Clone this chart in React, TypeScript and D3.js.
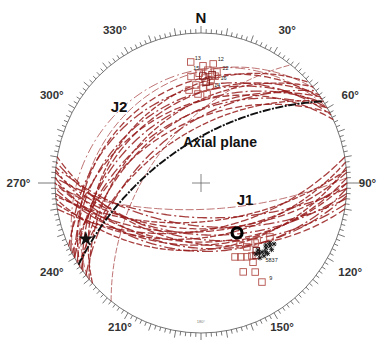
import React from "react";
import * as d3 from "d3";

// azimuth labels around the primitive
const azimuths = [0, 30, 60, 90, 120, 150, 180, 210, 240, 270, 300, 330];
const azLabels = ["N", "30°", "60°", "90°", "120°", "150°", "", "210°", "240°", "270°", "300°", "330°"];

// J1 great circles: [dip direction, dip]
const j1Dir = [178, 182, 175, 186, 180, 176, 184, 172, 188, 180, 178, 185, 174, 182, 190, 170];
const j1Dip = [70, 64, 61, 58, 56, 54, 52, 50, 49, 47, 45, 43, 42, 41, 46, 55];

// J2 great circles: [dip direction, dip]
const j2Dir = [327, 322, 332, 325, 330, 320, 328, 335, 324, 330, 318, 333, 326, 321, 330, 308];
const j2Dip = [53, 49, 46, 43, 42, 39, 37, 35, 33, 31, 29, 27, 24, 21, 18, 52];

const axialPlane = { dir: 327, dip: 60 };

// poles: trend / plunge
const j1PoleTrend = [355, 354.5, 1, 3.6, 6, 359, 2, 5.7, 7.7, 357, 1.3, 5.5, 352.5, 358, 4, 8.4, 3, 6, 1];
const j1PolePlunge = [12, 19, 14, 16, 12.8, 17.6, 20, 20.8, 18.6, 23.6, 25.4, 24, 26, 28.6, 28.5, 16.4, 22, 18, 19];

const j2PoleTrend = [154.7, 151, 147.4, 144.4, 146, 154, 148, 147.7, 143.6, 137.2, 147, 127.3, 134.7, 142, 140];
const j2PolePlunge = [32.8, 31.2, 29.4, 28.2, 25, 23.2, 20, 14, 34.2, 32.8, 37.6, 28.6, 33.2, 27, 29];

const betaTrend = [138.9, 137.7, 134.2, 131.6, 132.6, 138.4, 141, 135.9, 129.1, 141.4, 136, 133, 139.5, 130.5];
const betaPlunge = [28.6, 26.2, 26.3, 25.4, 23.4, 24, 24.6, 23.5, 24.4, 27.6, 25, 27.5, 26.8, 26.5];

const meanPole = { trend: 143.4, plunge: 45 };
const foldAxis = { trend: 244.7, plunge: 7.8 };

const poleNumbers = [
  { t: "13", trend: 357, plunge: 11 },
  { t: "12", trend: 8, plunge: 11 },
  { t: "15", trend: 356, plunge: 16 },
  { t: "22", trend: 11, plunge: 15 },
  { t: "16", trend: 11, plunge: 20 },
  { t: "14", trend: 8, plunge: 24.5 },
  { t: "5837", trend: 140, plunge: 21 },
  { t: "9", trend: 144, plunge: 13 },
];

const W = 380;
const H = 343;
const CX = 201;
const CY = 183;
const RX = 146;
const RY = 150;
const deg = Math.PI / 180;

const x = d3.scaleLinear().domain([-1, 1]).range([CX - RX, CX + RX]);
const y = d3.scaleLinear().domain([-1, 1]).range([CY + RY, CY - RY]);

function projLine(trend: number, plunge: number): [number, number] {
  const r = Math.tan(((90 - plunge) / 2) * deg);
  return [x(r * Math.sin(trend * deg)), y(r * Math.cos(trend * deg))];
}

function planePts(dipDir: number, dip: number): [number, number][] {
  const a = dipDir * deg;
  const d = dip * deg;
  const s = [Math.sin(a - Math.PI / 2), Math.cos(a - Math.PI / 2), 0];
  const v = [Math.cos(d) * Math.sin(a), Math.cos(d) * Math.cos(a), Math.sin(d)];
  const pts: [number, number][] = [];
  for (let t = 0; t <= 180; t += 1.5) {
    const c = Math.cos(t * deg);
    const sn = Math.sin(t * deg);
    const e = c * s[0] + sn * v[0];
    const n = c * s[1] + sn * v[1];
    const dn = c * s[2] + sn * v[2];
    pts.push([x(e / (1 + dn)), y(n / (1 + dn))]);
  }
  return pts;
}

const line = d3.line().curve(d3.curveLinear);
const dashes = ["8,2.5", "10,3,2,3", "6,2", "11,3,2,3", "7,3"];
const red = "#981c1c";

export default function App() {
  const ticks = d3.range(0, 360, 2);
  const star = d3.symbol(d3.symbolStar).size(70)();
  const fa = projLine(foldAxis.trend, foldAxis.plunge);
  const mp = projLine(meanPole.trend, meanPole.plunge);
  const sq = 6.5;

  return (
    <div style={{ position: "absolute", left: 0, top: 0 }}>
      <svg width={W} height={H} style={{ display: "block", background: "#fff" }} fontFamily="Arial, Liberation Sans, sans-serif">
        {/* primitive */}
        <ellipse cx={CX} cy={CY} rx={RX} ry={RY} fill="none" stroke="#666" strokeWidth={0.9} />
        {ticks.map((a) => {
          const sx = Math.sin(a * deg);
          const cy = Math.cos(a * deg);
          let len = a % 10 === 0 ? 7 : 4;
          if (a === 90 || a === 270) len = 17;
          const x0 = CX + RX * sx;
          const y0 = CY - RY * cy;
          return (
            <line key={a} x1={x0} y1={y0} x2={x0 + len * sx} y2={y0 - len * cy} stroke="#555" strokeWidth={0.8} />
          );
        })}
        {azimuths.map((a, i) => {
          let r = a > 120 && a < 240 ? 1.11 : a === 0 ? 1.1 : 1.18;
          if (a === 270) r = 1.25;
          if (a === 90) r = 1.14;
          const lx = CX + RX * r * Math.sin(a * deg);
          const ly = CY - RY * r * Math.cos(a * deg);
          return (
            <text key={a} x={lx} y={ly} dy="0.35em" textAnchor="middle" fontSize={a === 0 ? 15 : 11.5}
              fontWeight="bold" fill={a === 0 ? "#111" : "#333"}>
              {azLabels[i]}
            </text>
          );
        })}
        <text x={CX} y={CY + RY - 10} fontSize={4} fill="#777" textAnchor="middle">180°</text>

        {/* center cross */}
        <line x1={CX - 9} x2={CX + 9} y1={CY} y2={CY} stroke="#666" strokeWidth={0.8} />
        <line x1={CX} x2={CX} y1={CY - 9} y2={CY + 9} stroke="#666" strokeWidth={0.8} />

        {/* J1 great circles */}
        {j1Dir.map((dd, i) => (
          <path key={"j1" + i} d={line(planePts(dd, j1Dip[i])) || ""} fill="none" stroke={red}
            strokeOpacity={i === 0 ? 0.7 : 0.85} strokeWidth={i === 0 ? 0.9 : 1.3} strokeDasharray={dashes[i % dashes.length]} />
        ))}
        {/* J2 great circles */}
        {j2Dir.map((dd, i) => (
          <path key={"j2" + i} d={line(planePts(dd, j2Dip[i])) || ""} fill="none" stroke={red}
            strokeOpacity={i > 12 ? 0.7 : 0.85} strokeWidth={i > 12 ? 0.9 : 1.3} strokeDasharray={dashes[(i + 2) % dashes.length]} />
        ))}
        {/* axial plane */}
        <path d={line(planePts(axialPlane.dir, axialPlane.dip)) || ""} fill="none" stroke="#111" strokeWidth={1.9} strokeDasharray="8,1.5,2,1.5" />

        {/* poles */}
        {j1PoleTrend.map((t, i) => {
          const [px, py] = projLine(t, j1PolePlunge[i]);
          return <rect key={"p1" + i} x={px - sq / 2} y={py - sq / 2} width={sq} height={sq} fill="none"
            stroke={i > 15 ? "#7a1010" : "#b3504a"} strokeWidth={0.9} />;
        })}
        {j2PoleTrend.map((t, i) => {
          const [px, py] = projLine(t, j2PolePlunge[i]);
          return <rect key={"p2" + i} x={px - sq / 2} y={py - sq / 2} width={sq} height={sq} fill="none"
            stroke={i > 12 ? "#7a1010" : "#b3504a"} strokeWidth={0.9} />;
        })}
        {betaTrend.map((t, i) => {
          const [px, py] = projLine(t, betaPlunge[i]);
          return (
            <g key={"b" + i} stroke="#111" strokeWidth={0.9}>
              <line x1={px - 2.5} x2={px + 2.5} y1={py} y2={py} />
              <line x1={px} x2={px} y1={py - 2.5} y2={py + 2.5} />
              <line x1={px - 2} x2={px + 2} y1={py - 2} y2={py + 2} />
              <line x1={px - 2} x2={px + 2} y1={py + 2} y2={py - 2} />
            </g>
          );
        })}
        {poleNumbers.map((p, i) => {
          const [px, py] = projLine(p.trend, p.plunge);
          return <text key={"n" + i} x={px} y={py} fontSize={5.5} fill="#222">{p.t}</text>;
        })}

        {/* mean pole and fold axis */}
        <circle cx={mp[0]} cy={mp[1]} r={5} fill="none" stroke="#000" strokeWidth={3.2} />
        <path d={star || ""} transform={`translate(${fa[0]},${fa[1]})`} fill="#111" />

        {/* labels */}
        <text x={119} y={112} fontSize={15} fontWeight="bold" fill="#111" textAnchor="middle">J2</text>
        <text x={245} y={205} fontSize={15} fontWeight="bold" fill="#111" textAnchor="middle">J1</text>
        <text x={183} y={147} fontSize={14} fontWeight="bold" fill="#111">Axial plane</text>
      </svg>
    </div>
  );
}
